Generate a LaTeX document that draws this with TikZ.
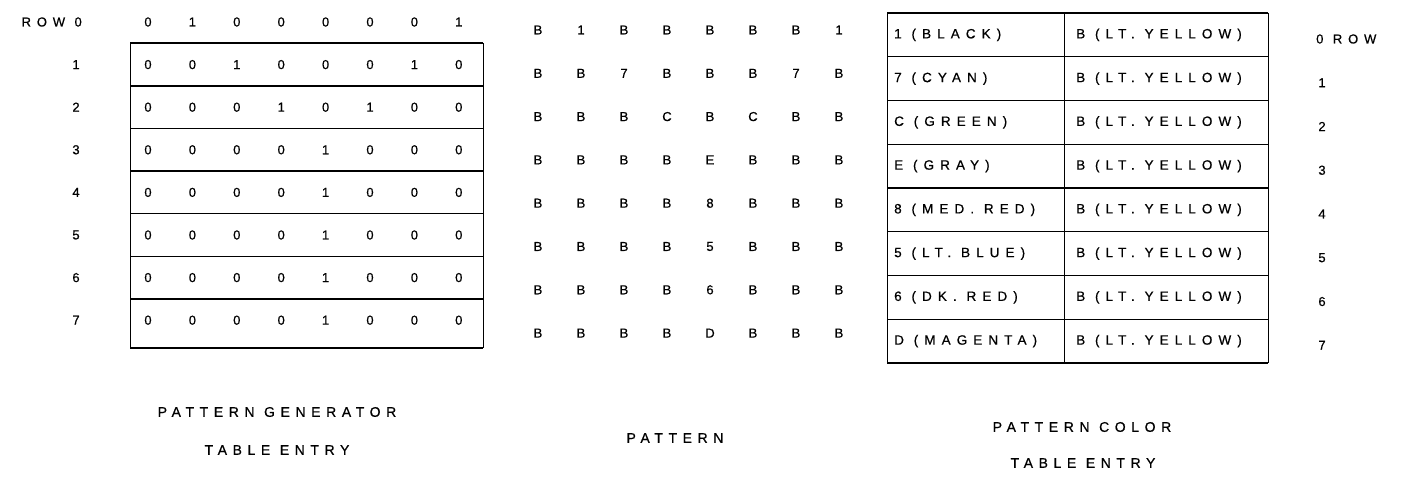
\documentclass[tikz,border=0pt]{standalone}
\usepackage{fontspec}
\newfontfamily\tabf{Liberation Sans}[LetterSpace=45,FakeBold=0.6]
\newfontfamily\capf{Liberation Sans}[LetterSpace=40,FakeBold=0.6]
\begin{document}
\begin{tikzpicture}[x=1pt,y=-1pt,
  txt/.style={inner sep=0pt,font=\tabf\fontsize{13.5}{15}\selectfont},
  dig/.style={inner sep=0pt,font=\tabf\fontsize{13}{14}\selectfont},
  capt/.style={inner sep=0pt,font=\capf\fontsize{14}{16}\selectfont},
  boxline/.style={line width=1.3pt,black},
  sideline/.style={line width=0.8pt,black}]
\useasboundingbox (0,0) rectangle (1401,478);
% ---------- left: pattern generator table ----------
\node[dig,anchor=east] (rowlbl) at (82,22) {ROW 0};
\foreach \i in {1,...,7} {
  \node[dig] (ll\i) at (76,22+42.6*\i) {\i};
}
\draw[sideline] (130,43) -- (130,348);
\draw[sideline] (483,43) -- (483,348);
\draw[boxline] (130,43) -- (483,43);
\draw[boxline] (130,348) -- (483,348);
\foreach \i in {1,...,6} {
  \draw[boxline] (130,22+42.6*\i+21.3) -- (483,22+42.6*\i+21.3);
}
\foreach \r/\vals in {0/{0,1,0,0,0,0,0,1},1/{0,0,1,0,0,0,1,0},2/{0,0,0,1,0,1,0,0},
  3/{0,0,0,0,1,0,0,0},4/{0,0,0,0,1,0,0,0},5/{0,0,0,0,1,0,0,0},6/{0,0,0,0,1,0,0,0},7/{0,0,0,0,1,0,0,0}} {
  \foreach \v [count=\c from 0] in \vals {
    \node[dig] (g\r-\c) at (148+44.4*\c,22+42.6*\r) {\v};
  }
}
\node[capt] (cap1a) at (277,412) {PATTERN GENERATOR};
\node[capt] (cap1b) at (277,450) {TABLE ENTRY};
% ---------- middle: pattern ----------
\foreach \r/\vals in {0/{B,1,B,B,B,B,B,1},1/{B,B,7,B,B,B,7,B},2/{B,B,B,C,B,C,B,B},
  3/{B,B,B,B,E,B,B,B},4/{B,B,B,B,8,B,B,B},5/{B,B,B,B,5,B,B,B},6/{B,B,B,B,6,B,B,B},7/{B,B,B,B,D,B,B,B}} {
  \foreach \v [count=\c from 0] in \vals {
    \node[dig] (p\r-\c) at (538+43*\c,30+43.3*\r) {\v};
  }
}
\node[capt] (cap2) at (675,438) {PATTERN};
% ---------- right: pattern color table ----------
\draw[sideline] (887,13) -- (887,363);
\draw[sideline] (1268,13) -- (1268,363);
\draw[sideline] (1064,13) -- (1064,363);
\foreach \i in {0,...,8} {
  \draw[boxline] (887,13+43.75*\i) -- (1268,13+43.75*\i);
}
\foreach \r/\fg in {0/1 (BLACK),1/7 (CYAN),2/C (GREEN),3/E (GRAY),4/8 (MED. RED),
  5/5 (LT. BLUE),6/6 (DK. RED),7/D (MAGENTA)} {
  \node[txt,anchor=west] (cf\r) at (894,34.9+43.75*\r) {\fg};
  \node[txt,anchor=west] (cb\r) at (1076,34.9+43.75*\r) {B (LT. YELLOW)};
}
\node[dig,anchor=west] (rowr) at (1316,39) {0 ROW};
\foreach \i in {1,...,7} {
  \node[dig] (rl\i) at (1322,39+43.75*\i) {\i};
}
\node[capt] (cap3a) at (1082,427) {PATTERN COLOR};
\node[capt] (cap3b) at (1083,463) {TABLE ENTRY};
\end{tikzpicture}
\end{document}
